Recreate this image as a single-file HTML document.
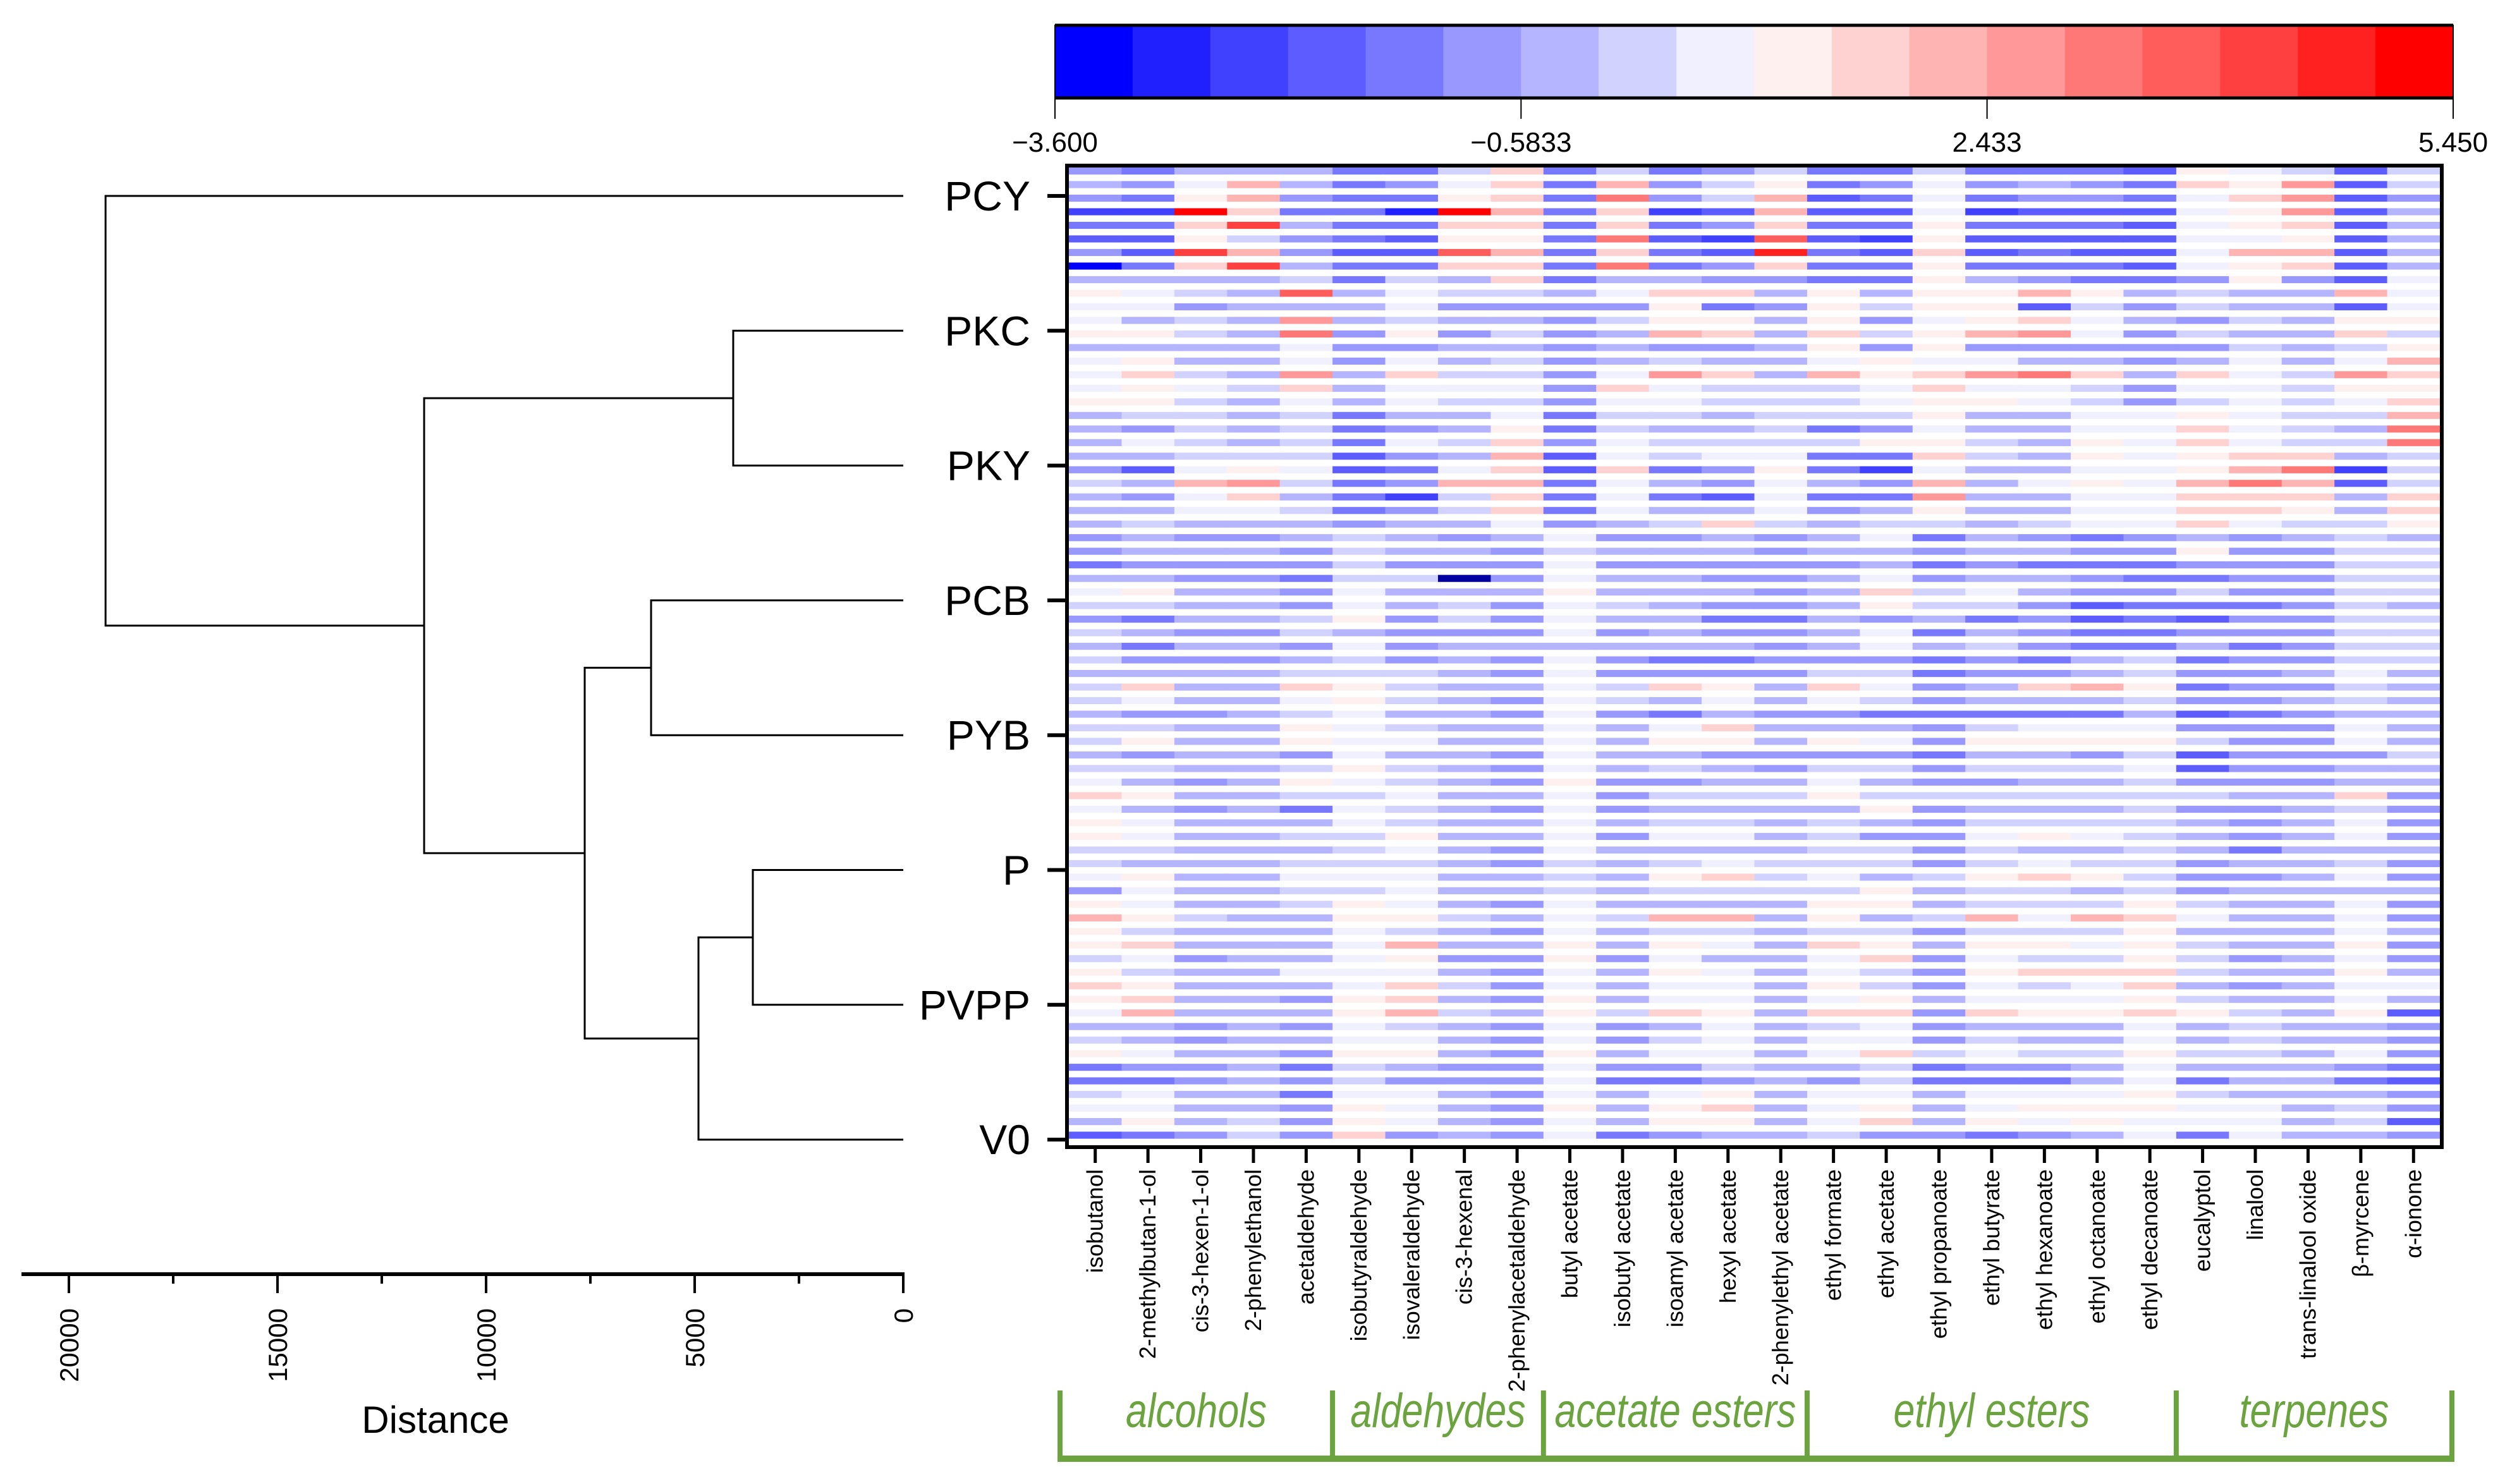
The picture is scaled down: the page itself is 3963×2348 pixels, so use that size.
<!DOCTYPE html>
<html><head><meta charset="utf-8"><title>Heatmap with dendrogram</title>
<style>
html,body{margin:0;padding:0;background:#fff;}
svg{display:block;font-family:"Liberation Sans",Arial,sans-serif;}
</style></head>
<body>
<svg id="chart" xmlns="http://www.w3.org/2000/svg" width="3963" height="2348" viewBox="0 0 3963 2348"></svg>
<script>
// ---------- data ----------
const sampleLabels = ["PCY","PKC","PKY","PCB","PYB","P","PVPP","V0"];
const compoundLabels = ["isobutanol","2-methylbutan-1-ol","cis-3-hexen-1-ol","2-phenylethanol","acetaldehyde","isobutyraldehyde","isovaleraldehyde","cis-3-hexenal","2-phenylacetaldehyde","butyl acetate","isobutyl acetate","isoamyl acetate","hexyl acetate","2-phenylethyl acetate","ethyl formate","ethyl acetate","ethyl propanoate","ethyl butyrate","ethyl hexanoate","ethyl octanoate","ethyl decanoate","eucalyptol","linalool","trans-linalool oxide","β-myrcene","α-ionone"];
const classNames = ["alcohols","aldehydes","acetate esters","ethyl esters","terpenes"];
const classSizes = [5,4,5,7,5];
const colorbarTicks = [-3.6,-0.5833,2.433,5.45];
const colorbarTickLabels = ["−3.600","−0.5833","2.433","5.450"];
const scaleMin = -3.6, scaleMax = 5.45;
const distanceTicks = [0,5000,10000,15000,20000];
const distanceMinorTicks = [2500,7500,12500,17500];
// merges: [childA, childB, distance]; leaves 0..7, new nodes 8..14
const merges = [[1,2,4076],[3,4,6045],[5,6,3606],[10,7,4909],[9,11,7636],[8,12,11485],[0,13,19121]];
const values = [
[-0.8,-1.3,-0.3,-0.3,-0.3,-1.3,-1.3,0.2,1.7,-1.3,0.2,-1.3,-0.8,0.2,-1.3,-1.3,0.2,-1.3,-1.3,-1.3,-1.8,1.2,0.7,0.2,-1.8,0.2],
[-0.3,-0.8,0.7,2.2,-0.3,-1.3,-0.8,0.7,1.7,-1.3,2.2,-0.8,0.2,1.2,-1.3,-0.8,0.7,-0.8,-0.3,-0.8,-1.3,1.7,1.2,2.7,-1.8,0.2],
[-0.8,-1.3,1.2,2.2,-0.8,-1.3,-1.3,1.2,1.7,-1.3,3.2,-0.8,0.2,2.2,-1.8,-1.3,0.7,-1.3,-0.8,-0.8,-1.3,0.7,1.7,2.7,-1.8,-0.8],
[-2.3,-2.3,5.2,1.7,-1.3,-1.3,-2.9,5.2,2.2,-1.3,1.7,-2.3,-1.8,2.2,-1.8,-1.8,0.7,-2.3,-1.8,-1.8,-1.8,0.7,1.2,2.7,-1.8,-0.3],
[-1.3,-1.3,1.7,4.2,-0.3,-1.3,-1.3,1.7,1.7,-1.3,1.7,-1.3,-0.8,1.7,-1.3,-1.3,1.2,-1.3,-1.3,-1.3,-1.8,0.7,1.2,1.7,-1.8,-0.3],
[-1.8,-1.8,1.2,0.2,-0.8,-1.3,-1.8,1.2,1.2,-1.3,3.2,-1.8,-2.3,3.7,-1.8,-2.3,1.2,-1.8,-1.8,-1.8,-1.8,0.7,0.7,1.2,-1.8,-0.3],
[-0.8,-1.8,4.2,2.2,-0.8,-1.8,-1.8,3.7,2.2,-1.3,1.7,-1.3,-1.8,4.7,-1.3,-1.8,1.7,-1.8,-1.3,-1.8,-1.8,0.7,2.2,2.2,-1.8,-0.3],
[-3.4,-1.3,1.7,4.2,-0.3,-1.3,-1.3,1.7,1.7,-1.3,3.2,-1.3,-0.8,1.7,-1.3,-1.3,1.2,-1.3,-1.3,-1.3,-1.8,0.7,1.2,1.7,-1.8,-0.3],
[-0.3,-0.3,-0.3,-0.3,0.2,-1.3,0.2,-0.3,1.7,-1.3,-0.3,-0.3,-0.8,-0.8,-1.3,-1.3,1.2,-0.3,-0.8,-1.3,-1.3,-0.8,1.2,-0.8,-1.8,0.7],
[1.2,0.7,0.2,-0.3,3.7,-0.3,0.7,0.2,0.2,-0.3,0.7,1.7,1.7,-0.3,1.2,-0.3,1.2,1.2,2.2,1.2,-0.3,0.2,-0.3,-0.3,2.2,0.7],
[0.7,0.7,-0.8,-0.3,-0.3,-0.3,0.7,-0.8,-0.8,-0.8,-0.8,1.2,-1.3,-0.8,1.2,0.2,1.2,1.2,-1.8,0.2,-0.8,0.2,-0.3,-0.3,-1.8,0.7],
[0.7,-0.3,0.2,-0.3,2.7,-0.3,0.2,-0.3,-0.3,-0.8,0.2,1.2,1.2,-0.3,1.2,-0.8,0.7,1.2,1.7,0.7,-0.3,-0.8,0.2,-0.3,1.2,1.2],
[1.2,1.2,0.2,-0.3,3.2,-0.8,1.2,-0.8,0.2,-0.8,-0.3,2.2,1.7,-0.3,1.7,0.2,1.2,2.2,2.7,0.7,-0.8,0.2,-0.3,-0.3,1.7,0.2],
[-0.3,-0.3,-0.3,-0.3,0.7,-0.8,-0.8,-0.3,-0.3,-0.8,-0.3,-0.8,-0.8,-0.3,1.2,-0.8,1.2,-0.8,-0.8,-0.8,-0.8,-0.8,0.2,-0.3,0.2,1.2],
[0.7,1.2,-0.3,-0.3,0.7,-0.8,0.7,-0.3,0.2,-0.8,-0.3,0.2,-0.3,-0.3,0.7,1.2,0.7,0.7,-0.3,-0.3,-0.8,-0.3,0.7,-0.3,0.7,2.2],
[0.7,1.7,0.2,-0.3,2.7,-0.3,1.7,0.2,0.2,-0.8,0.7,2.7,1.7,-0.3,2.2,1.2,1.7,2.7,3.2,1.7,-0.3,1.7,0.7,0.2,2.7,1.7],
[0.7,1.2,0.7,0.2,1.7,-0.3,0.7,0.7,0.7,-0.8,1.7,0.7,0.2,0.2,0.2,0.7,1.7,0.7,0.7,0.2,-0.8,0.7,0.7,0.2,1.2,1.2],
[1.2,1.2,0.2,-0.3,0.7,-0.3,0.7,0.2,0.2,-0.8,0.7,0.7,0.2,0.2,0.2,0.7,1.2,1.2,0.7,0.2,-0.8,0.2,0.7,0.2,0.7,1.7],
[-0.3,0.2,0.2,-0.3,0.2,-1.3,-0.3,-0.3,0.7,-1.3,0.2,0.2,-0.3,0.2,0.2,0.2,1.2,-0.3,-0.3,0.7,0.7,1.2,0.7,0.2,0.2,2.2],
[-0.3,-0.8,0.2,-0.3,0.2,-1.3,-0.8,-0.3,1.2,-1.3,0.2,-0.3,-0.3,0.2,-1.3,-0.8,0.7,-0.3,-0.3,0.7,0.7,1.7,0.7,0.2,-0.3,3.2],
[-0.3,0.7,0.2,-0.3,0.2,-1.3,0.7,0.2,1.7,-0.8,0.7,0.2,0.2,0.2,0.2,1.2,1.2,0.2,-0.3,1.2,0.7,1.7,0.7,0.2,0.2,3.2],
[-0.3,-0.3,0.2,0.2,0.2,-1.8,-0.8,-0.3,2.2,-1.8,0.7,0.2,0.7,0.7,-1.3,-1.3,1.7,0.2,-0.3,1.2,0.7,1.2,1.7,1.7,-0.3,0.2],
[-0.8,-1.8,0.7,1.2,0.7,-1.8,-1.3,0.7,1.7,-1.8,1.7,-1.3,-0.8,1.2,-1.3,-2.3,0.7,-0.3,-0.3,0.7,0.7,1.2,2.2,3.2,-2.3,0.2],
[0.2,-0.3,2.2,2.7,0.2,-1.3,-0.8,2.2,2.2,-1.3,0.7,-0.3,-0.8,0.7,-0.3,-0.8,2.2,-0.3,0.7,1.2,0.7,2.2,3.2,2.2,-1.8,0.2],
[-0.3,-0.8,0.7,1.7,-0.3,-1.3,-2.3,0.2,1.7,-1.3,0.7,-1.3,-1.8,0.7,-1.3,-1.3,2.7,-0.3,-0.3,0.7,0.7,1.7,1.7,1.7,-0.3,1.7],
[-0.3,-0.3,0.7,0.7,0.2,-1.3,-0.8,0.2,1.7,-1.3,0.7,-0.3,-0.3,0.7,-0.8,-0.3,1.2,-0.3,-0.3,0.7,0.7,1.7,1.7,1.2,-0.3,1.7],
[-0.3,0.2,-0.3,-0.3,-0.3,-0.8,-0.3,-0.3,0.7,-0.8,-0.3,0.2,1.7,0.2,-0.3,0.2,0.2,-0.3,0.2,0.7,0.7,1.7,0.7,0.2,0.2,1.2],
[-0.8,-0.3,-0.8,-0.8,-0.3,0.2,-0.3,-0.8,-0.3,0.7,-0.8,-0.8,-0.3,-0.8,-0.3,0.7,-1.3,-0.3,-0.8,-1.3,-0.8,-0.3,-0.8,-0.3,0.2,-0.3],
[-0.8,-0.3,-0.3,-0.3,-0.8,0.2,-0.3,-0.3,-0.8,0.2,-0.3,-0.3,-0.3,-0.8,-0.3,-0.3,-0.8,-0.3,-0.3,-0.8,-0.8,1.2,-0.8,-0.8,0.2,0.2],
[-1.3,-0.8,-0.8,-0.8,-0.8,0.2,-0.8,-0.8,-0.8,0.7,-0.8,-0.8,-0.8,-0.8,-0.8,-0.3,-1.3,-0.8,-1.3,-1.3,-1.3,-0.8,-0.8,-0.8,0.2,0.2],
[-0.3,-0.3,-0.8,-0.8,-1.3,0.2,0.2,-4.0,-0.8,0.7,-0.3,-0.3,-0.8,-0.8,-0.3,0.7,-0.8,-0.3,-0.3,-0.8,-1.3,-1.3,-0.8,-0.8,0.2,0.2],
[0.7,1.2,-0.3,-0.3,-0.8,0.7,-0.3,-0.3,-0.3,1.2,-0.3,-0.3,-0.3,-0.8,-0.3,1.7,0.2,0.7,-0.3,-0.8,-0.8,0.2,-0.8,-0.8,0.2,0.2],
[0.2,0.2,-0.3,-0.3,-0.8,0.7,-0.3,0.2,-0.8,0.7,0.2,-0.3,-0.8,-0.8,-0.3,1.2,0.2,0.2,-0.8,-1.8,-1.3,-1.3,-1.3,-0.8,0.2,-0.3],
[-0.8,-1.3,-0.3,-0.3,0.2,1.2,-0.8,0.2,-0.8,0.7,-0.3,-0.3,-1.3,-1.3,-0.3,-0.8,-0.3,-1.3,-0.8,-1.8,-1.3,-1.8,-0.8,-0.8,0.2,0.2],
[0.2,-0.3,-0.8,-0.8,0.2,-0.3,-0.8,-0.8,-0.8,0.7,-0.8,-0.3,-0.8,-0.8,-0.3,0.7,-1.3,-0.3,-0.8,-1.3,-1.3,-0.8,-0.8,-0.8,0.2,0.2],
[-0.3,-1.3,-0.3,-0.3,-0.8,0.7,-0.8,-0.3,-0.3,-0.3,-0.3,-0.3,-0.3,-0.8,-0.3,0.7,-0.3,0.2,-0.8,-1.3,-1.3,-0.3,-1.3,-0.8,0.2,0.2],
[0.2,-0.8,-0.8,-0.8,-0.3,0.2,-0.8,-0.3,-0.8,0.7,-0.8,-1.3,-1.3,-0.8,-0.8,-0.8,-1.3,-0.8,-1.3,-0.3,0.2,-1.3,-0.8,-0.8,0.2,0.2],
[-0.3,-0.3,-0.3,-0.3,0.2,0.2,0.2,-0.3,-0.8,0.7,-0.8,-0.8,-0.8,-0.8,0.2,0.2,-1.3,-0.8,-0.8,-0.3,0.2,-0.8,-0.8,-0.3,0.7,-0.3],
[0.2,1.7,-0.3,-0.3,1.7,1.2,0.2,-0.3,-0.3,0.7,0.2,1.7,1.2,-0.3,1.7,0.7,-0.8,-0.3,1.7,2.2,1.2,-1.3,-0.8,-0.8,0.2,-0.3],
[0.2,0.7,-0.3,-0.3,0.7,1.2,0.2,-0.3,-0.8,0.7,0.2,-0.3,0.7,-0.3,0.7,0.2,-0.8,-0.3,-0.3,-0.3,0.2,-0.8,-0.8,-0.3,0.2,-0.3],
[-0.3,-0.8,-0.8,-0.3,0.2,0.7,-0.3,-0.3,-0.8,0.7,-0.8,-1.3,-0.3,-0.8,-0.8,-1.3,-1.3,-1.3,-1.3,-1.3,-0.3,-1.8,-1.3,-0.8,-0.3,-0.3],
[0.2,0.2,-0.3,-0.3,1.2,0.7,0.2,-0.3,-0.3,0.7,-0.3,0.7,1.7,-0.3,-0.3,-0.3,-0.8,0.2,0.7,0.7,0.7,-0.8,-0.8,-0.8,0.7,-0.3],
[0.2,1.2,-0.3,-0.3,1.2,0.7,0.7,-0.3,-0.3,0.7,-0.3,1.2,1.2,-0.3,1.2,0.7,-0.8,1.2,1.2,1.2,1.2,0.2,-0.8,-0.8,0.7,-0.3],
[-0.3,-0.8,-0.3,-0.3,-0.8,0.7,-0.3,-0.3,-0.8,0.7,-0.3,-0.3,-0.8,-0.8,-0.8,-0.8,-1.3,-0.3,-0.3,-0.8,0.2,-1.8,-0.8,-0.8,-0.8,0.2],
[0.2,0.2,-0.3,-0.3,0.2,1.2,0.2,-0.3,-0.8,0.7,-0.3,0.2,-0.3,-0.8,0.2,0.2,-0.8,0.2,0.2,0.2,0.7,-1.8,-0.8,-0.8,-0.3,-0.3],
[0.7,-0.3,-0.8,-0.3,1.2,0.7,0.2,-0.3,-0.8,1.2,-0.8,-0.8,-0.3,-0.3,0.7,-0.3,-0.8,-0.8,-0.3,-0.3,0.2,-0.8,-0.8,-0.8,-0.3,-0.3],
[1.7,1.2,-0.3,-0.3,0.2,0.2,0.7,-0.3,-0.3,0.7,-0.8,0.2,0.2,0.2,1.2,0.2,0.2,0.2,0.2,0.2,0.2,0.2,-0.3,-0.3,1.7,-0.8],
[0.7,-0.3,-0.8,-0.3,-1.3,0.7,0.2,-0.3,-0.8,0.7,-0.8,-0.3,-0.3,-0.3,-0.3,1.2,-0.8,-0.3,-0.3,-0.3,0.2,-0.8,-0.8,-0.3,0.2,-0.8],
[1.2,0.7,-0.3,-0.3,-0.3,0.7,0.2,-0.3,-0.3,0.7,-0.3,0.2,0.2,-0.3,0.2,-0.3,-0.8,0.2,0.2,0.2,0.2,-0.3,-0.8,-0.3,0.7,-0.8],
[1.2,0.7,-0.3,-0.3,0.2,0.2,1.2,-0.3,-0.3,0.7,-0.8,0.7,0.7,-0.3,0.2,-0.8,-0.8,0.7,1.2,0.7,0.2,-0.3,-0.8,-0.3,0.7,-0.8],
[0.2,0.2,-0.3,-0.3,-0.3,0.2,0.7,-0.3,-0.8,0.7,-0.3,-0.3,-0.3,-0.3,0.2,0.2,-0.8,0.2,-0.3,-0.3,0.2,-0.3,-1.3,-0.3,-0.3,-0.3],
[0.2,-0.3,-0.3,-0.3,0.2,0.2,0.2,-0.3,-0.8,0.2,-0.3,0.2,0.7,0.2,0.2,0.2,-0.8,0.2,0.7,0.2,0.2,-0.8,-0.3,-0.3,0.2,-0.8],
[0.7,1.2,-0.3,-0.3,0.7,0.7,0.7,-0.3,-0.3,0.2,-0.3,1.2,1.7,0.2,0.7,-0.3,0.2,1.2,1.7,1.2,0.2,-0.8,-0.8,-0.3,0.7,-0.8],
[-0.8,0.7,-0.3,-0.3,0.2,0.2,0.7,-0.3,-0.3,0.2,-0.3,0.2,0.2,0.2,0.2,1.2,-0.3,0.2,0.2,-0.3,0.2,-0.8,-0.3,-0.3,-0.3,-0.3],
[1.2,0.7,-0.3,-0.3,0.2,1.2,0.7,-0.3,-0.8,0.7,-0.3,-0.3,-0.3,-0.3,1.2,1.2,-0.3,0.2,0.2,0.2,1.2,0.2,-0.3,-0.3,0.7,-0.8],
[2.2,1.2,0.2,-0.3,-0.3,1.2,1.2,0.2,-0.3,0.7,0.2,2.2,2.2,-0.3,1.2,-0.3,0.2,2.2,0.7,2.2,1.7,0.7,-0.3,-0.3,0.7,-0.8],
[1.2,0.2,-0.3,-0.3,-0.3,0.7,0.2,-0.3,-0.8,0.7,-0.3,0.2,0.2,-0.3,0.2,0.2,-0.8,0.2,0.2,0.2,1.2,-0.3,-0.3,-0.3,0.7,-0.3],
[1.2,1.7,-0.3,-0.3,-0.3,0.7,2.2,-0.3,-0.3,1.2,-0.3,1.2,0.7,-0.3,1.7,1.2,-0.3,1.2,1.2,0.7,1.2,0.2,-0.3,-0.3,1.2,-0.8],
[0.2,0.7,-0.8,-0.3,-0.3,0.7,1.2,-0.8,-0.8,1.2,-0.8,0.7,-0.3,-0.3,0.7,1.7,-0.8,0.7,0.2,0.2,1.2,0.2,-0.8,-0.3,0.7,-0.8],
[1.2,0.2,-0.3,-0.3,0.7,0.7,0.7,-0.3,-0.8,0.7,-0.3,1.2,0.7,-0.3,0.7,0.2,-0.8,1.2,1.7,1.7,1.7,0.2,-0.3,-0.3,1.2,-0.3],
[1.7,1.2,-0.3,-0.3,-0.3,0.7,1.7,0.2,-0.8,0.7,-0.3,0.7,0.7,-0.3,1.2,0.2,-0.8,0.7,0.2,0.7,1.7,-0.3,-0.8,-0.3,0.7,0.7],
[1.2,1.7,-0.3,-0.3,-0.8,1.2,1.7,-0.3,-0.8,1.2,-0.3,0.7,0.7,-0.3,0.7,1.2,-0.3,0.7,0.7,0.7,1.2,0.2,-0.3,-0.3,0.7,-0.3],
[0.7,2.2,-0.3,-0.3,-0.3,1.2,2.2,0.2,-0.3,1.2,0.2,1.7,1.2,-0.3,1.7,1.7,-0.8,1.7,1.2,1.2,1.7,1.2,0.2,-0.3,1.2,-1.8],
[-0.3,-0.3,-0.8,-0.3,-0.8,0.7,0.2,-0.3,-0.8,0.7,-0.8,-0.3,0.7,-0.3,0.2,0.7,-0.8,-0.3,-0.3,-0.3,0.7,-0.3,0.2,-0.3,-0.3,-0.8],
[0.2,-0.3,-0.8,-0.3,-0.3,0.7,0.7,-0.3,-0.8,0.7,-0.8,0.2,0.7,-0.3,0.7,0.7,-0.8,0.2,-0.3,-0.3,0.7,-0.3,0.2,-0.3,-0.3,-0.8],
[1.2,0.7,-0.3,-0.3,-0.8,1.2,1.2,-0.3,-0.8,1.2,-0.3,0.7,0.7,-0.3,0.7,1.7,0.2,0.7,0.2,0.2,1.2,0.2,0.2,-0.3,0.7,-0.8],
[-1.3,-0.8,-0.8,-0.3,-1.3,0.2,-0.3,-0.8,-0.8,0.7,-0.8,-0.8,0.2,-0.3,-0.3,0.2,-1.3,-0.8,-0.8,-0.3,0.7,-0.3,-0.3,-0.3,-0.8,-1.3],
[-1.3,-1.3,-0.8,-0.3,-0.8,0.2,-0.8,-0.8,-0.8,0.7,-1.3,-1.3,-0.8,-0.3,-0.8,0.2,-1.3,-1.3,-1.3,-0.3,0.7,-1.3,-0.3,-0.3,-1.3,-1.8],
[0.2,0.7,-0.3,-0.3,-1.3,0.7,0.7,-0.3,-0.8,0.7,-0.3,0.7,1.2,-0.3,0.7,0.7,-0.3,0.7,0.7,0.7,1.2,0.2,-0.3,-0.3,-0.3,-0.8],
[0.7,0.7,-0.3,-0.3,-0.8,1.2,0.7,-0.3,-0.8,1.2,-0.3,1.2,1.7,-0.3,0.7,1.2,-0.3,0.7,1.2,1.2,1.2,0.7,0.7,-0.3,0.2,-0.8],
[-0.3,1.2,-0.3,0.2,-0.8,1.2,0.7,-0.3,-0.8,0.7,-0.3,1.2,1.2,-0.3,0.7,1.7,-0.3,1.2,0.7,1.2,0.7,0.7,0.7,-0.3,0.2,-1.8],
[-1.8,-1.3,-0.8,0.2,-0.8,1.7,-0.8,-0.3,-0.8,0.7,-1.3,-0.8,-0.3,-0.3,0.2,-0.8,-0.8,-1.3,-0.8,-0.3,0.7,-1.3,0.7,-0.3,-0.3,-0.8]
];

// ---------- helpers ----------
const NS = "http://www.w3.org/2000/svg";
const svg = document.getElementById("chart");
function mk(tag, attrs, parent, text) {
  const e = document.createElementNS(NS, tag);
  for (const k in attrs) e.setAttribute(k, attrs[k]);
  if (text !== undefined) e.textContent = text;
  (parent || svg).appendChild(e);
  return e;
}
const palette = ['#0000FF','#2020FF','#4040FF','#5C5CFF','#7878FF','#9898FF','#B4B4FF','#D2D2FF','#F0F0FF','#FFF0F0','#FFD2D2','#FFB4B4','#FF9898','#FF7878','#FF5C5C','#FF4040','#FF2020','#FF0000'];
const binW = (scaleMax - scaleMin) / palette.length;
function colorOf(v) {
  if (v < scaleMin) return '#0000A0';
  let b = Math.floor((v - scaleMin) / binW);
  if (b < 0) b = 0; if (b > palette.length - 1) b = palette.length - 1;
  return palette[b];
}

// ---------- heatmap ----------
const HX0 = 1691, HX1 = 3860, HY0 = 265, HY1 = 1812;
const nR = values.length, nC = compoundLabels.length;
const colW = (HX1 - HX0) / nC, rowH = (HY1 - HY0) / nR;
const xCol = j => HX0 + j * colW;
const yRow = i => HY0 + i * rowH;

const gHeat = mk('g', {});


for (let i = 0; i < nR; i++) {
  for (let j = 0; j < nC; j++) {
    const r = mk('rect', {x: xCol(j).toFixed(2), y: yRow(i).toFixed(2), width: (colW + 0.6).toFixed(2), height: (rowH * 0.52).toFixed(2), fill: colorOf(values[i][j])}, gHeat);
    
    
  }
}
const frame = mk('rect', {x: HX0 - 3, y: HY0 - 3, width: HX1 - HX0 + 6, height: HY1 - HY0 + 6, fill: 'none', stroke: '#000', 'stroke-width': 6});



// x ticks and labels
const gX = mk('g', {});


compoundLabels.forEach((lab, j) => {
  const cx = xCol(j) + colW / 2;
  const t = mk('line', {x1: cx, y1: HY1 + 3, x2: cx, y2: 1840, stroke: '#000', 'stroke-width': 5}, gX);
  
  
  const tx = mk('text', {x: 0, y: 0, transform: `translate(${cx + 12},1850) rotate(-90)`, 'text-anchor': 'end', 'font-size': 36, fill: '#000'}, gX, lab);
  
  
});

// ---------- class brackets ----------
const green = '#6BA33F';
const gCls = mk('g', {});


const BY0 = 2200, BY1 = 2308;
let startCol = 0;
const bx = [1677];
classSizes.forEach((n, k) => { startCol += n; bx.push(k === classSizes.length - 1 ? 3879 : xCol(startCol)); });
const base = mk('line', {x1: bx[0] - 4, y1: BY1, x2: bx[bx.length - 1] + 4, y2: BY1, stroke: green, 'stroke-width': 10}, gCls);


bx.forEach(x => {
  const v = mk('line', {x1: x, y1: BY0, x2: x, y2: BY1, stroke: green, 'stroke-width': 8}, gCls);
  
  
});
classNames.forEach((name, k) => {
  const cx = (bx[k] + bx[k + 1]) / 2;
  const t = mk('text', {x: 0, y: 0, transform: `translate(${cx},2258) scale(0.8,1)`, 'text-anchor': 'middle', 'font-size': 76, 'font-style': 'italic', fill: green}, gCls, name);
  
  
});

// ---------- colorbar ----------
const CB0 = 1669, CB1 = 3881, CBY0 = 40, CBY1 = 155;
const gCb = mk('g', {});


const cbScale = v => CB0 + (v - scaleMin) / (scaleMax - scaleMin) * (CB1 - CB0);
palette.forEach((c, k) => {
  const x0 = cbScale(scaleMin + k * binW), x1 = cbScale(scaleMin + (k + 1) * binW);
  const r = mk('rect', {x: x0.toFixed(2), y: CBY0, width: (x1 - x0 + 0.5).toFixed(2), height: CBY1 - CBY0, fill: c}, gCb);
  
  
});
const cbf = mk('rect', {x: CB0, y: CBY0, width: CB1 - CB0, height: CBY1 - CBY0, fill: 'none', stroke: '#000', 'stroke-width': 2}, gCb);


[CBY0, CBY1].forEach(y => {
  const l = mk('line', {x1: CB0, y1: y, x2: CB1, y2: y, stroke: '#000', 'stroke-width': 5}, gCb);
  
  
});
colorbarTicks.forEach((v, k) => {
  const x = cbScale(v);
  const l = mk('line', {x1: x, y1: CBY1, x2: x, y2: 188, stroke: '#000', 'stroke-width': 2}, gCb);
  
  
  const t = mk('text', {x: x, y: 240, 'text-anchor': 'middle', 'font-size': 44, fill: '#000'}, gCb, colorbarTickLabels[k]);
  
  
});

// ---------- dendrogram ----------
const DX0 = 1429, pxPerUnit = 330 / 5000;
const dx = d => DX0 - d * pxPerUnit;
const leafY0 = 310, leafStep = 213.3;
const leafY = i => leafY0 + i * leafStep;
const gD = mk('g', {});


const nodeX = [], nodeY = [];
sampleLabels.forEach((s, i) => { nodeX.push(dx(0)); nodeY.push(leafY(i)); });
merges.forEach(m => {
  const [a, b, d] = m;
  const x = dx(d);
  const p = mk('path', {d: `M${nodeX[a]},${nodeY[a]} H${x} V${nodeY[b]} H${nodeX[b]}`, fill: 'none', stroke: '#000', 'stroke-width': 3}, gD);
  
  
  nodeX.push(x); nodeY.push((nodeY[a] + nodeY[b]) / 2);
});

// sample labels and y ticks
sampleLabels.forEach((s, i) => {
  const y = leafY(i);
  const t = mk('text', {x: 1630, y: y + 23, 'text-anchor': 'end', 'font-size': 66, fill: '#000'}, svg, s);
  
  
  const tk = mk('line', {x1: 1657, y1: y, x2: 1688, y2: y, stroke: '#000', 'stroke-width': 6});
  
  
});

// distance axis
const gA = mk('g', {});


const AY = 2016;
const al = mk('line', {x1: 34, y1: AY, x2: DX0 + 2, y2: AY, stroke: '#000', 'stroke-width': 6}, gA);


distanceTicks.forEach(v => {
  const x = dx(v);
  const l = mk('line', {x1: x, y1: AY, x2: x, y2: 2046, stroke: '#000', 'stroke-width': 4}, gA);
  
  
  const t = mk('text', {x: 0, y: 0, transform: `translate(${x + 15},2070) rotate(-90)`, 'text-anchor': 'end', 'font-size': 42, fill: '#000'}, gA, String(v));
  
  
});
distanceMinorTicks.forEach(v => {
  const x = dx(v);
  const l = mk('line', {x1: x, y1: AY, x2: x, y2: 2031, stroke: '#000', 'stroke-width': 4}, gA);
  
  
});
const at = mk('text', {x: 689, y: 2267, 'text-anchor': 'middle', 'font-size': 60, fill: '#000'}, gA, 'Distance');


</script>
</body></html>
